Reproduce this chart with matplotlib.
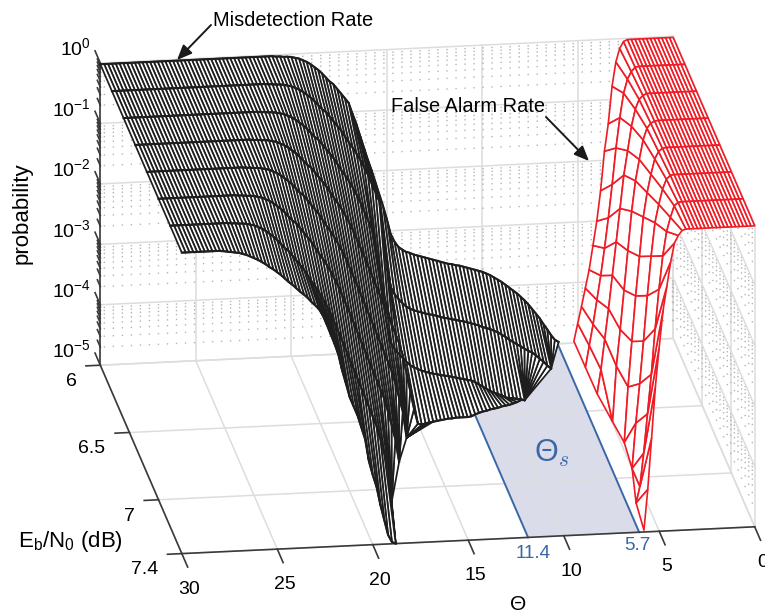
import numpy as np
import matplotlib
matplotlib.use('Agg')
import matplotlib.pyplot as plt
from mpl_toolkits.mplot3d import proj3d
from mpl_toolkits.mplot3d.art3d import Poly3DCollection

plt.rcParams['font.family'] = ['Liberation Sans', 'DejaVu Sans']
plt.rcParams['mathtext.default'] = 'regular'

W, H = 765, 615
nan = np.nan

# axes
eb_rows = [6.0, 6.2, 6.4, 6.6, 6.8, 7.0, 7.2, 7.4]
theta_ticks = [0, 5, 10, 15, 20, 25, 30]
eb_ticks = [6, 6.5, 7, 7.4]
eb_labels = ['6', '6.5', '7', '7.4']
decades = [-5, -4, -3, -2, -1, 0]

# misdetection rate, log10, theta from 30 down in steps of 0.2
theta_md = np.arange(30, 5.9, -0.2)
# the shoulder is nearly the same curve on every row, read once and shifted one dB of theta per row
shoulder = [-0.02, -0.03, -0.03, -0.04, -0.04, -0.05, -0.065, -0.08, -0.11, -0.14,
            -0.18, -0.23, -0.28, -0.34, -0.41, -0.48, -0.53, -0.61, -0.69, -0.77,
            -0.85, -0.95, -1.05, -1.14, -1.24, -1.35, -1.47, -1.6, -1.75, -1.9,
            -2.05, -2.21, -2.37, -2.53, -2.69, -2.85, -3.01, -3.17, -3.33, -3.49,
            -3.7, -3.94, -4.18]
md_0 = [-0.02] * 45 + shoulder[:21] + [
    -1.03, -1.2, -1.4, -1.6, -1.8, -1.98, -2.18, -2.38, -2.58, -2.8, -3.05, -3.18, -3.27, -3.32, -3.36,
    -3.38, -3.41, -3.43, -3.45, -3.47, -3.49, -3.51, -3.53, -3.55, -3.57, -3.59, -3.6, -3.62, -3.63, -3.65,
    -3.67, -3.69, -3.71, -3.73, -3.75, -3.78, -3.81, -3.85, -3.89, -3.93, -3.98, -4.03, -4.08, -4.13, -4.19,
    -4.25, -4.32, -4.4, -4.48, -4.56, -4.66, -4.75, -4.85, -4.93, -4.97]
md_1 = [-0.02] * 40 + shoulder[:31] + [
    -2.55, -3.1, -3.48, -3.6, -3.68, -3.75, -3.81, -3.85, -3.88, -3.9, -3.92, -3.94, -3.96, -3.97, -3.99,
    -4.01, -4.03, -4.04, -4.06, -4.07, -4.09, -4.1, -4.12, -4.14, -4.16, -4.18, -4.21, -4.23, -4.25, -4.28,
    -4.31, -4.35, -4.39, -4.44, -4.48, -4.52, -4.56, -4.6, -4.64, -4.67, -4.72, -4.78, -4.83, -4.9, -4.95]
md_2 = [-0.02] * 35 + shoulder[:31] + [
    -2.45, -2.85, -3.25, -3.65, -3.95, -4.06, -4.13, -4.2, -4.27, -4.33, -4.37, -4.4, -4.43, -4.45, -4.47,
    -4.49, -4.5, -4.52, -4.53, -4.54, -4.56, -4.57, -4.59, -4.6, -4.62, -4.63, -4.66, -4.7, -4.74, -4.78,
    -4.82, -4.85, -4.88, -4.9, -4.94, -4.95, -4.96, -4.97, -4.98, -5.0]
md_3 = [-0.02] * 30 + shoulder[:41] + [
    -4.0, -4.3, -4.6, -4.85, -4.87, -4.85, -4.84, -4.83, -4.82, -4.81, -4.8, -4.79, -4.79, -4.78, -4.78,
    -4.78, -4.78, -4.77, -4.74, -4.72, -4.7, -4.69, -4.67, -4.66, -4.65, -4.63, -4.62, -4.61, -4.59, -4.57, -4.54]
md_4 = [-0.02] * 25 + shoulder + [-4.62]
md_5 = [-0.02] * 20 + shoulder + [-4.56]
md_6 = [-0.02] * 15 + shoulder + [-4.76]
md_7 = [-0.02] * 10 + [
    -0.02, -0.03, -0.04, -0.05, -0.06, -0.07, -0.09, -0.11, -0.14, -0.17, -0.2, -0.24, -0.28, -0.33, -0.37,
    -0.42, -0.47, -0.53, -0.59, -0.64, -0.7, -0.76, -0.81, -0.87, -0.94, -1.0, -1.07, -1.18, -1.33, -1.49,
    -1.65, -1.83, -2.1, -2.32, -2.55, -2.7, -2.85, -3.05, -3.25, -3.62, -3.85, -4.05, -4.35, -4.6, -4.85,
    -4.97, -5.0]

# false alarm rate, log10, theta from 0 up in steps of 0.2
theta_fa = np.arange(0, 5.9, 0.2)
fa_0 = [-0.02] * 12 + [-0.02, -0.05, -0.16, -0.38, -0.78, -1.4, -1.85, -2.5, -3.0, -3.4, -3.8, -4.1, -4.4, -4.68, -4.97]
fa_1 = [-0.02] * 12 + [-0.02, -0.03, -0.1, -0.22, -0.45, -0.85, -1.35, -1.95, -2.5, -3.0, -3.45, -3.85, -4.25, -4.6, -4.96]
fa_2 = [-0.02] * 12 + [-0.02, -0.02, -0.05, -0.11, -0.27, -0.55, -0.95, -1.35, -1.9, -2.45, -3.0, -3.55, -4.05, -4.55, -4.95]
fa_3 = [-0.02] * 12 + [-0.02, -0.02, -0.03, -0.06, -0.14, -0.33, -0.65, -1.0, -1.5, -2.15, -2.8, -3.45, -4.05, -4.97]
fa_4 = [-0.02] * 12 + [-0.02, -0.02, -0.02, -0.03, -0.08, -0.2, -0.45, -0.75, -1.15, -1.8, -2.45, -3.2, -3.95, -4.87]
fa_5 = [-0.02] * 12 + [-0.02, -0.02, -0.02, -0.02, -0.03, -0.09, -0.25, -0.5, -0.8, -1.35, -2.0, -2.75, -3.45, -4.1, -4.85]
fa_6 = [-0.02] * 12 + [-0.02, -0.02, -0.02, -0.02, -0.02, -0.03, -0.08, -0.27, -0.5, -0.9, -1.45, -2.1, -2.85, -3.5, -4.15, -4.7, -4.97]
fa_7 = [-0.02] * 12 + [-0.02, -0.02, -0.02, -0.02, -0.02, -0.02, -0.02, -0.04, -0.12, -0.24, -0.55, -0.95, -1.35, -1.95, -2.6, -3.45, -4.3, -4.97]

# shaded band, where its edges sit on the floor and what they are labelled
band_theta = [6.05, 11.87]
band_labels = ['5.7', '11.4']


def table(rows, n):
    return np.array([r + [nan] * (n - len(r)) for r in rows])


def mesh_polys(theta, eb, z):
    polys = []
    for r in range(len(eb) - 1):
        a, b = z[r], z[r + 1]
        end_a = np.where(np.isfinite(a))[0][-1]
        end_b = np.where(np.isfinite(b))[0][-1]
        for c in range(min(end_a, end_b)):
            polys.append([(theta[c], eb[r], a[c]), (theta[c + 1], eb[r], a[c + 1]),
                          (theta[c + 1], eb[r + 1], b[c + 1]), (theta[c], eb[r + 1], b[c])])
        # rows stop at different places, close the gap with a small fan
        if end_a > end_b:
            tip = (theta[end_b], eb[r + 1], b[end_b])
            for c in range(end_b, min(end_a, end_b + 10)):
                polys.append([tip, (theta[c], eb[r], a[c]), (theta[c + 1], eb[r], a[c + 1])])
        elif end_b > end_a:
            tip = (theta[end_a], eb[r], a[end_a])
            for c in range(end_a, min(end_b, end_a + 10)):
                polys.append([tip, (theta[c], eb[r + 1], b[c]), (theta[c + 1], eb[r + 1], b[c + 1])])
    return polys


z_md = table([md_0, md_1, md_2, md_3, md_4, md_5, md_6, md_7], len(theta_md))
z_fa = table([fa_0, fa_1, fa_2, fa_3, fa_4, fa_5, fa_6, fa_7], len(theta_fa))

fig = plt.figure(figsize=(W / 100, H / 100), dpi=100)
ax = fig.add_axes([0, 0, 1, 1], projection='3d', proj_type='ortho', computed_zorder=False)
ax.view_init(elev=19.2, azim=81.9)
ax.set_box_aspect((1, 1, 0.553))
ax.set_xlim(0, 30)
ax.set_ylim(6, 7.4)
ax.set_zlim(-5, 0)
ax.set_axis_off()

eb0, eb1 = eb_rows[0], eb_rows[-1]
GRID = '#dddddd'
DOT = '#b4b4b4'
AX = '#3a3a3a'
BLUE = '#3a68a6'
grid_kw = dict(color=GRID, lw=1.1, zorder=2)
dot_kw = dict(color=DOT, lw=1.0, ls=(0, (1, 5.5)), zorder=2)
ax_kw = dict(color=AX, lw=1.2, zorder=4)

# shaded band goes under the grid
th_a, th_b = band_theta
ax.add_collection3d(Poly3DCollection([[(th_a, eb0, -5), (th_b, eb0, -5), (th_b, eb1, -5), (th_a, eb1, -5)]],
                                     facecolor='#dbdce9', edgecolor='none', zorder=1))

for t in theta_ticks:
    ax.plot([t, t], [eb0, eb1], [-5, -5], **grid_kw)
    ax.plot([t, t], [eb0, eb0], [-5, 0], **grid_kw)
for e in eb_ticks:
    ax.plot([0, 30], [e, e], [-5, -5], **grid_kw)
    ax.plot([0, 0], [e, e], [-5, 0], **grid_kw)
for d in decades:
    ax.plot([0, 30], [eb0, eb0], [d, d], **grid_kw)
    ax.plot([0, 0], [eb0, eb1], [d, d], **grid_kw)
    if d < 0:
        for m in range(2, 10):
            zm = d + np.log10(m)
            ax.plot([0, 30], [eb0, eb0], [zm, zm], **dot_kw)
            ax.plot([0, 0], [eb0, eb1], [zm, zm], **dot_kw)

# band edges
for t in band_theta:
    ax.plot([t, t], [eb0, eb1], [-5, -5], color=BLUE, lw=1.4, zorder=3)

# axes and ticks
ax.plot([0, 30], [eb1, eb1], [-5, -5], **ax_kw)
ax.plot([30, 30], [eb0, eb1], [-5, -5], **ax_kw)
ax.plot([30, 30], [eb0, eb0], [-5, 0], **ax_kw)
for t in theta_ticks:
    ax.plot([t, t], [eb1, eb1 + 0.1], [-5, -5], **ax_kw)
for e in eb_ticks:
    ax.plot([30, 30.75], [e, e], [-5, -5], **ax_kw)
for d in decades:
    ax.plot([30, 30], [eb0, eb0 - 0.09], [d, d], **ax_kw)
    if d < 0:
        for m in range(2, 10):
            zm = d + np.log10(m)
            ax.plot([30, 30], [eb0, eb0 - 0.05], [zm, zm], **ax_kw)

# surfaces, filled white so they hide the grid
ax.add_collection3d(Poly3DCollection(mesh_polys(theta_md, eb_rows, z_md), facecolor='white',
                                     edgecolor='#1e1e1e', linewidth=1.25, zorder=6))
ax.add_collection3d(Poly3DCollection(mesh_polys(theta_fa, eb_rows, z_fa), facecolor='white',
                                     edgecolor='#ee1c25', linewidth=1.2, zorder=6))
for r, e in enumerate(eb_rows):
    ax.plot(theta_md, [e] * len(theta_md), z_md[r], color='#1e1e1e', lw=1.5, zorder=7)


# fit the box to the pixel positions of two floor corners
def to_px(t, e, z):
    xs, ys, _ = proj3d.proj_transform(t, e, z, ax.get_proj())
    px, py = ax.transData.transform((xs, ys))
    return np.array([px, H - py])


target_a = np.array([673.0, 338.0])
target_b = np.array([182.0, 554.0])
size, cx, cy = float(H), W / 2, H / 2
for i in range(3):
    ax.set_position([(cx - size / 2) / W, 1 - (cy + size / 2) / H, size / W, size / H])
    fig.canvas.draw()
    pa, pb = to_px(0, eb0, -5), to_px(30, eb1, -5)
    size *= np.linalg.norm(target_a - target_b) / np.linalg.norm(pa - pb)
    ax.set_position([(cx - size / 2) / W, 1 - (cy + size / 2) / H, size / W, size / H])
    fig.canvas.draw()
    pa, pb = to_px(0, eb0, -5), to_px(30, eb1, -5)
    shift = (target_a + target_b) / 2 - (pa + pb) / 2
    cx += shift[0]
    cy += shift[1]
ax.set_position([(cx - size / 2) / W, 1 - (cy + size / 2) / H, size / W, size / H])
fig.canvas.draw()


def label(x, y, s, **kw):
    kw.setdefault('ha', 'center')
    kw.setdefault('va', 'center')
    fig.text(x / W, 1 - y / H, s, **kw)


# tick labels sit at a fixed place in the 3d box
for t in theta_ticks:
    p = to_px(t, eb1 + 0.13, -5.3)
    label(p[0], p[1], str(t), fontsize=14)
for e, lab in zip(eb_ticks, eb_labels):
    p = to_px(31.25, e, -5.25)
    label(p[0], p[1], lab, fontsize=14, ha='right')
for d in decades:
    p = to_px(30.15, eb0 - 0.11, d)
    label(p[0], p[1], '$10^{%d}$' % d, fontsize=14, ha='right')

label(22, 213, 'probability', fontsize=16, rotation=90)
label(70, 542, '$E_b/N_0$ (dB)', fontsize=16)
label(518, 604, r'$\Theta$', fontsize=15, math_fontfamily='cm')
label(552, 453, r'$\Theta_{\mathit{s}}$', fontsize=22, color=BLUE, math_fontfamily='cm')
label(533, 553, band_labels[1], fontsize=13.6, color=BLUE)
label(637, 545, band_labels[0], fontsize=13.6, color=BLUE)

arrow = dict(arrowstyle='-|>,head_length=0.9,head_width=0.38', color='#1a1a1a', lw=1.4, shrinkA=0, shrinkB=0)
label(293, 20, 'Misdetection Rate', fontsize=14.4)
ax.annotate('', xy=(177, H - 60), xytext=(211, H - 25), xycoords='figure pixels',
            textcoords='figure pixels', arrowprops=arrow, zorder=10)
label(468, 106, 'False Alarm Rate', fontsize=14.4)
ax.annotate('', xy=(589, H - 161), xytext=(546, H - 117), xycoords='figure pixels',
            textcoords='figure pixels', arrowprops=arrow, zorder=10)

fig.savefig('out.png', dpi=100)
